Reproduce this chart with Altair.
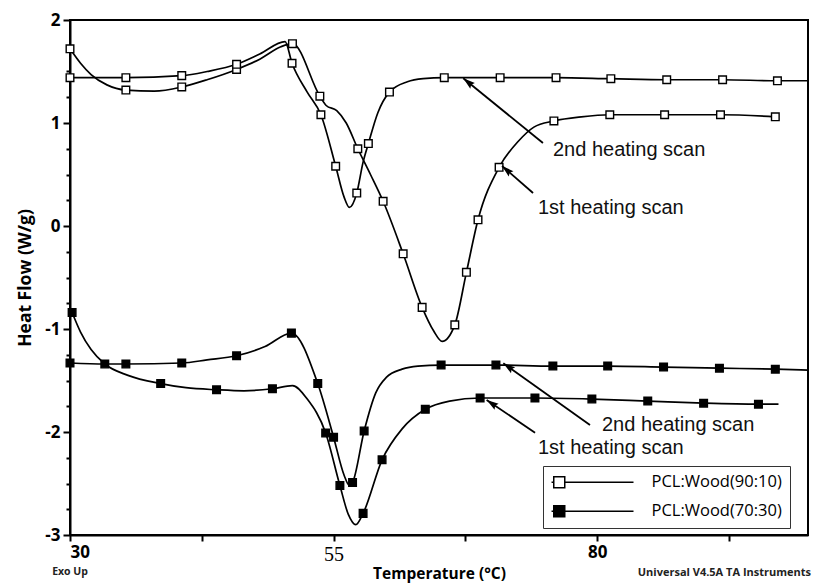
import math
import altair as alt
import pandas as pd

S90 = "PCL:Wood(90:10)"
S70 = "PCL:Wood(70:30)"

# ---------------- curve data (Temperature °C, Heat Flow W/g, marker flag) ----------------
# PCL:Wood(90:10) - 1st heating scan
u1_x = [30.0, 31.0, 32.0, 33.5, 35.3, 38.0, 40.6, 43.0, 45.8, 48.0, 50.0, 51.1, 53.7, 54.3, 55.3,
        56.2, 57.3, 58.5, 59.7, 61.6, 63.4, 64.5, 65.3, 66.5, 67.6, 68.7, 70.7, 72.5, 74.0, 75.9,
        78.5, 81.2, 86.4, 91.7, 96.9]
u1_y = [1.72, 1.58, 1.47, 1.37, 1.32, 1.31, 1.35, 1.42, 1.52, 1.62, 1.74, 1.77, 1.26, 1.17, 1.12,
        1.00, 0.75, 0.50, 0.24, -0.27, -0.79, -1.02, -1.12, -0.96, -0.45, 0.06, 0.57, 0.82, 0.96, 1.02,
        1.06, 1.08, 1.08, 1.08, 1.06]
u1_m = [1, 0, 0, 0, 1, 0, 1, 0, 1, 0, 0, 1, 1, 0, 0,
        0, 1, 0, 1, 1, 1, 0, 0, 1, 1, 1, 1, 0, 0, 1,
        0, 1, 1, 1, 1]

# PCL:Wood(90:10) - 2nd heating scan
u2_x = [30.0, 35.3, 40.6, 43.0, 45.8, 48.0, 50.4, 51.06, 52.5, 53.8, 55.2, 56.0, 56.5, 57.2, 57.8,
        58.3, 59.2, 60.3, 62.0, 63.5, 65.5, 70.8, 76.1, 81.3, 86.6, 91.9, 97.1, 100.0]
u2_y = [1.44, 1.44, 1.46, 1.50, 1.57, 1.67, 1.79, 1.58, 1.30, 1.08, 0.58, 0.28, 0.18, 0.32, 0.62,
        0.80, 1.10, 1.30, 1.40, 1.43, 1.44, 1.44, 1.44, 1.43, 1.42, 1.42, 1.41, 1.41]
u2_m = [1, 1, 1, 0, 1, 0, 0, 1, 0, 1, 1, 0, 0, 1, 0,
        1, 0, 1, 0, 0, 1, 1, 1, 1, 1, 1, 1, 0]

# PCL:Wood(70:30) - 1st heating scan
l1_x = [30.2, 31.0, 32.0, 33.3, 35.5, 38.6, 41.0, 43.9, 46.5, 49.2, 51.1, 52.5, 54.25, 55.6, 56.4,
        57.1, 57.8, 59.6, 61.5, 63.7, 66.0, 68.9, 74.1, 79.5, 84.8, 90.1, 95.3, 97.2]
l1_y = [-0.84, -1.03, -1.20, -1.34, -1.45, -1.53, -1.57, -1.59, -1.60, -1.58, -1.55, -1.68, -2.01, -2.52, -2.80,
        -2.90, -2.79, -2.27, -1.97, -1.78, -1.70, -1.67, -1.67, -1.68, -1.70, -1.72, -1.73, -1.73]
l1_m = [1, 0, 0, 1, 0, 1, 0, 1, 0, 1, 0, 0, 1, 1, 0,
        0, 1, 1, 0, 1, 0, 1, 1, 1, 1, 1, 1, 0]

# PCL:Wood(70:30) - 2nd heating scan
l2_x = [30.0, 33.3, 35.3, 40.6, 43.0, 45.8, 48.5, 51.0, 53.5, 55.0, 56.0, 56.5, 56.8, 57.9, 59.0,
        60.0, 61.5, 63.0, 65.2, 70.4, 75.8, 81.0, 86.3, 91.6, 96.9, 100.0]
l2_y = [-1.33, -1.34, -1.34, -1.33, -1.30, -1.26, -1.17, -1.04, -1.53, -2.05, -2.42, -2.52, -2.49, -1.99, -1.62,
        -1.47, -1.39, -1.36, -1.35, -1.35, -1.36, -1.36, -1.37, -1.38, -1.39, -1.40]
l2_m = [1, 0, 1, 1, 0, 1, 0, 1, 1, 1, 0, 0, 1, 1, 0,
        0, 0, 0, 1, 1, 1, 1, 1, 1, 1, 0]

# ---------------- annotations ----------------
ann_text = ["2nd heating scan", "1st heating scan", "2nd heating scan", "1st heating scan"]
ann_x = [75.81, 74.39, 80.46, 74.39]
ann_y = [0.738, 0.175, -1.932, -2.155]

arr_tail_x = [74.86, 73.92, 79.32, 74.11]
arr_tail_y = [0.806, 0.320, -1.932, -2.007]
arr_tip_x = [67.30, 70.98, 71.10, 69.52]
arr_tip_y = [1.434, 0.583, -1.333, -1.689]

x_ticks = [30, 42.5, 55, 67.5, 80, 92.5]
y_ticks = [-3 + 0.25 * i for i in range(21)]

X_DOM = [30, 100]
Y_DOM = [-3, 2]
W, H = 738, 515

# ---------------- build tables ----------------
def curve_df(xs, ys, ms, series, scan):
    return pd.DataFrame({"T": xs, "HF": ys, "marker": ms,
                         "series": series, "curve": series + " " + scan})

curves = pd.concat([
    curve_df(u1_x, u1_y, u1_m, S90, "1st"),
    curve_df(u2_x, u2_y, u2_m, S90, "2nd"),
    curve_df(l1_x, l1_y, l1_m, S70, "1st"),
    curve_df(l2_x, l2_y, l2_m, S70, "2nd"),
], ignore_index=True)
markers = curves[curves["marker"] == 1]

px_x = W / (X_DOM[1] - X_DOM[0])
px_y = H / (Y_DOM[1] - Y_DOM[0])
angles = []
for tx, ty, hx, hy in zip(arr_tail_x, arr_tail_y, arr_tip_x, arr_tip_y):
    dx = (hx - tx) * px_x
    dy = -(hy - ty) * px_y
    angles.append(math.degrees(math.atan2(dx, -dy)) % 360)

arrows = pd.DataFrame({"T": arr_tail_x, "HF": arr_tail_y, "T2": arr_tip_x, "HF2": arr_tip_y})
heads = pd.DataFrame({"T": arr_tip_x, "HF": arr_tip_y, "ang": angles})
labels = pd.DataFrame({"T": ann_x, "HF": ann_y, "txt": ann_text})

XT = "Temperature (°C)"
YT = "Heat Flow (W/g)"
xscale = alt.Scale(domain=X_DOM, nice=False, zero=False)
yscale = alt.Scale(domain=Y_DOM, nice=False, zero=False)

is55 = "datum.value == 55"
x_axis = alt.Axis(
    values=x_ticks,
    labelExpr="(datum.value % 25 == 5) ? '' + datum.value : ''",
    tickSize=6,
    labelPadding=3,
    labelFont={"condition": {"test": is55, "value": "Liberation Serif"}, "value": "Open Sans"},
    labelFontWeight={"condition": {"test": is55, "value": "normal"}, "value": "bold"},
    labelFontSize={"condition": {"test": is55, "value": 20}, "value": 17},
    titleFont="Open Sans", titleFontWeight="bold", titleFontSize=15.5,
    titleX=W / 2, titleY=38, titleBaseline="middle", titleAlign="center",
)
isint = "abs(datum.value - round(datum.value)) < 0.01"
y_axis = alt.Axis(
    values=y_ticks,
    labelExpr="abs(datum.value - round(datum.value)) < 0.01 ? '' + datum.value : ''",
    tickSize={"condition": {"test": isint, "value": 7}, "value": 4},
    labelPadding=3,
    labelFont="Open Sans", labelFontWeight="bold", labelFontSize=17,
    titleFont="Open Sans", titleFontWeight="bold", titleFontSize=17.5,
    titleX=-45, titleY=H / 2, titleAngle=270, titleBaseline="middle", titleAlign="center",
)

def X(field="T"):
    return alt.X(f"{field}:Q", scale=xscale, axis=x_axis, title=XT)

def Y(field="HF"):
    return alt.Y(f"{field}:Q", scale=yscale, axis=y_axis, title=YT)

lines = alt.Chart(curves).mark_line(
    color="black", strokeWidth=1.7, interpolate="monotone"
).encode(x=X(), y=Y(), detail="curve:N")

LEG_SYMBOL = "M-1,-1H1V1H-1Z M1,0H13.5 M-1.4,0H-1"
points = alt.Chart(markers).mark_point(
    shape="square", size=58, stroke="black", strokeWidth=1.4, opacity=1, fillOpacity=1
).encode(
    x=X(), y=Y(),
    fill=alt.Fill("series:N", scale=alt.Scale(domain=[S90, S70], range=["white", "black"]),
                  legend=alt.Legend(
                      title=None, orient="none", legendX=473, legendY=446,
                      symbolType=LEG_SYMBOL, symbolSize=121,
                      symbolStrokeColor="black", symbolStrokeWidth=1.5, symbolOpacity=1,
                      labelFont="Open Sans", labelFontSize=16.5, labelColor="black",
                      labelOffset=84, rowPadding=11, padding=8,
                      strokeColor="#333333", fillColor="white",
                  )),
)

arrow_lines = alt.Chart(arrows).mark_rule(color="black", strokeWidth=1.8).encode(
    x=X(), y=Y(), x2="T2:Q", y2="HF2:Q"
)
ARROW_HEAD = "M0,0L0.3,1L0,0.85L-0.3,1Z"
arrow_heads = alt.Chart(heads).mark_point(
    shape=ARROW_HEAD, size=576, filled=True, color="black", opacity=1
).encode(x=X(), y=Y(), angle=alt.Angle("ang:Q", scale=None))

ann = alt.Chart(labels).mark_text(
    align="left", baseline="middle", font="Liberation Sans", fontSize=20, color="#111111"
).encode(x=X(), y=Y(), text="txt:N")

foot_left = alt.Chart(pd.DataFrame({"t": ["Exo Up"]})).mark_text(
    align="center", baseline="middle", font="Open Sans", fontWeight="bold", fontSize=10.5, color="#222"
).encode(x=alt.value(0), y=alt.value(H + 37), text="t:N")
foot_right = alt.Chart(pd.DataFrame({"t": ["Universal V4.5A TA Instruments"]})).mark_text(
    align="right", baseline="middle", font="Open Sans", fontWeight="bold", fontSize=11, color="#222"
).encode(x=alt.value(W + 3), y=alt.value(H + 38), text="t:N")

chart = alt.layer(lines, points, arrow_lines, arrow_heads, ann, foot_left, foot_right).properties(
    width=W, height=H,
    autosize=alt.AutoSizeParams(type="none"),
    padding={"left": 70, "top": 20, "right": 5, "bottom": 51},
    background="white",
).configure_view(stroke="black", strokeWidth=2).configure_axis(
    domainColor="black", domainWidth=2, tickColor="black", tickWidth=2,
    grid=False, labelColor="black", titleColor="black",
)

chart.save("out.html", embed_options={"renderer": "svg", "actions": False})
